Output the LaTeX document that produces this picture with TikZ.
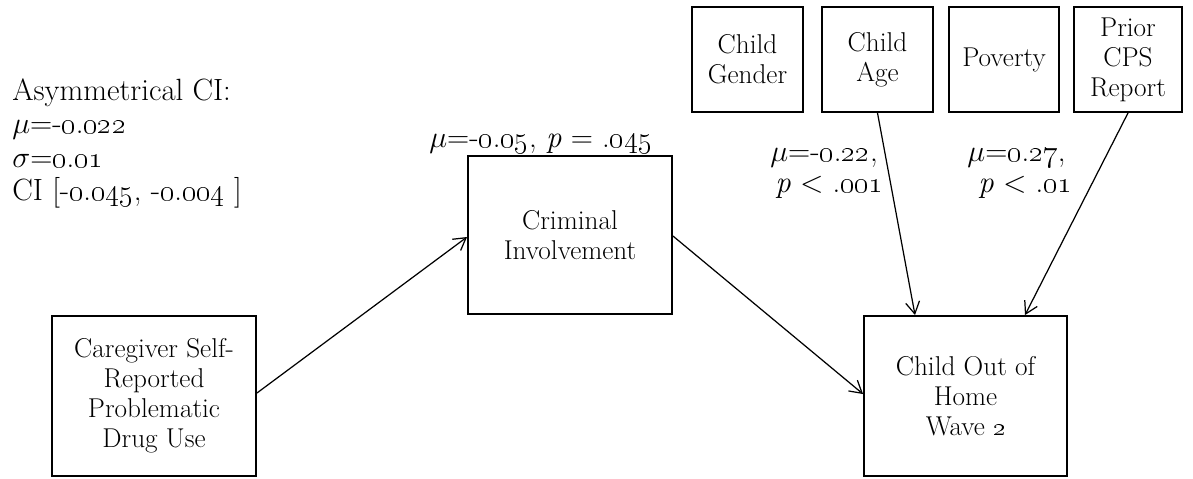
\documentclass[tikz,border=0pt]{standalone}
\usetikzlibrary{arrows.meta}
% old-style figures for all numbers
\newcommand\osn[1]{\oldstylenums{#1}}
\begin{document}
\begin{tikzpicture}[x=0.02cm,y=-0.02cm,
  box/.style={draw,line width=1.1pt,inner sep=0pt,align=center,
    font=\fontsize{15.5}{17}\selectfont},
  arr/.style={line width=0.7pt,
    -{Straight Barb[length=2.4mm,width=2.8mm,line width=0.7pt]}},
  lab/.style={inner sep=0pt,font=\fontsize{17.5}{19}\selectfont}]
\useasboundingbox (0,0) rectangle (1193,478);

% variables
\node[box,minimum width=4.08cm,minimum height=3.2cm] (drug) at (154,396)
  {Caregiver Self-\\Reported\\Problematic\\Drug Use};
\node[box,minimum width=4.08cm,minimum height=3.16cm] (crime) at (570,235)
  {Criminal\\Involvement};
\node[box,minimum width=4.06cm,minimum height=3.2cm] (home) at (965.5,396)
  {Child Out of\\Home\\Wave \osn{2}};
\node[box,minimum width=2.22cm,minimum height=2.1cm] (gender) at (747.5,59.5)
  {Child\\Gender};
\node[box,minimum width=2.22cm,minimum height=2.1cm] (age) at (877.5,59.5)
  {Child\\Age};
\node[box,minimum width=2.2cm,minimum height=2.1cm] (pov) at (1004,59.5)
  {Poverty};
\node[box,minimum width=2.16cm,minimum height=2.1cm] (cps) at (1128,59.5)
  {Prior\\CPS\\Report};

% paths
\draw[arr] ([yshift=0.06cm]drug.east) -- ([yshift=-0.04cm]crime.west);
\draw[arr] ([yshift=-0.02cm]crime.east) -- ([yshift=0.04cm]home.west);
\draw[arr] (age.south) -- ([xshift=-1.01cm]home.north);
\draw[arr] (cps.south) -- ([xshift=1.19cm]home.north);

% estimates
\node[lab,anchor=base] (mcrime) at (541,147)
  {$\mu$=-\osn{0}.\osn{05}, \textit{p} = .\osn{045}};
\node[lab,anchor=base west] (mage) at (770,161) {$\mu$=-\osn{0}.\osn{22},};
\node[lab,anchor=base west] (page) at (775,192) {\textit{p} < .\osn{001}};
\node[lab,anchor=base west] (mcps) at (967,161) {$\mu$=\osn{0}.\osn{27},};
\node[lab,anchor=base west] (pcps) at (978,192) {\textit{p} < .\osn{01}};

% indirect effect
\node[lab,anchor=base west] (ci1) at (12,100) {Asymmetrical CI:};
\node[lab,anchor=base west] (ci2) at (12,133) {$\mu$=-\osn{0}.\osn{022}};
\node[lab,anchor=base west] (ci3) at (12,167) {$\sigma$=\osn{0}.\osn{01}};
\node[lab,anchor=base west] (ci4) at (12,200) {CI [-\osn{0}.\osn{045}, -\osn{0}.\osn{004} ]};
\end{tikzpicture}
\end{document}
